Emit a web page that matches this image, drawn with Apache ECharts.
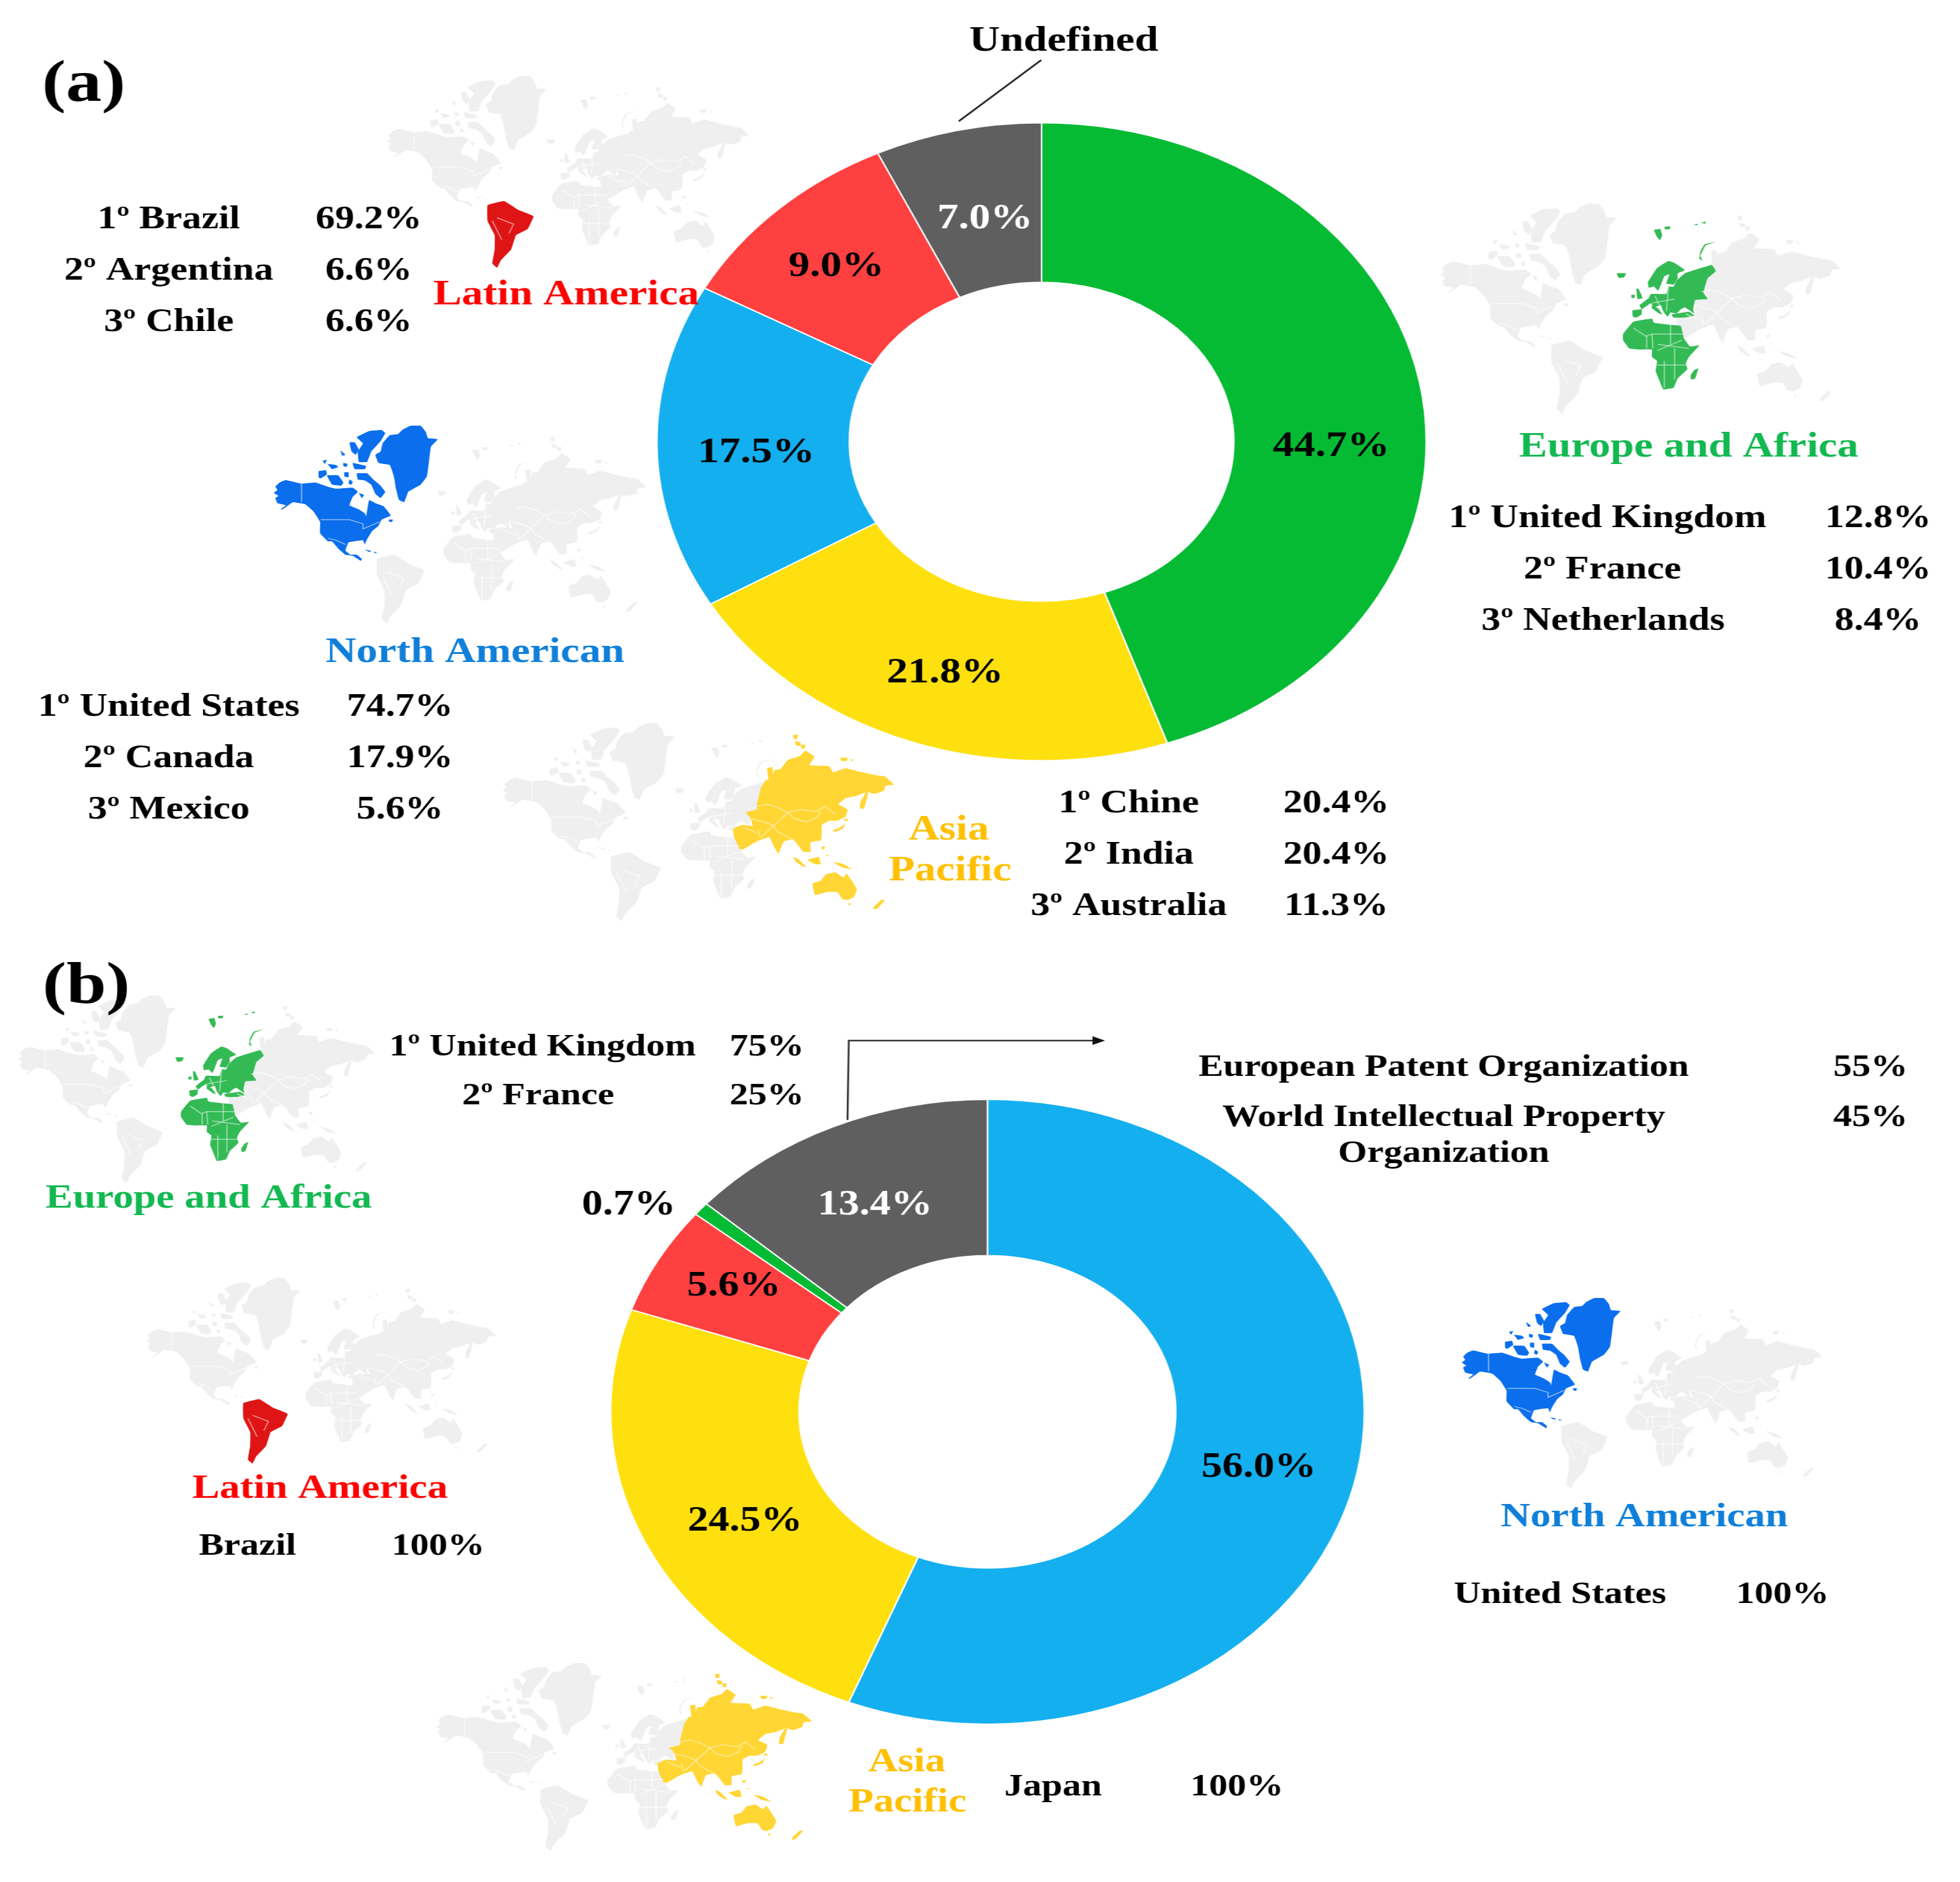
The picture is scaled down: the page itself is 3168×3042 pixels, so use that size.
<!DOCTYPE html>
<html><head><meta charset="utf-8">
<style>html,body{margin:0;padding:0;background:#fff;width:3168px;height:3042px;overflow:hidden}
#c{width:2627px;height:3042px;transform:scaleX(1.206);transform-origin:0 0;filter:blur(0.6px)}</style>
<script src="https://cdn.jsdelivr.net/npm/echarts@6/dist/echarts.min.js"></script>
</head><body><div id="c"></div>
<script>
// ---- data ----
const regionsA = ['Europe and Africa','Asia Pacific','North American','Latin America','Undefined'];
// Slice sizes as drawn in the picture; the printed labels differ slightly from them.
const drawnA   = [44.7,21.8,16.5,10.0,7.0];
const printedA = [44.7,21.8,17.5,9.0,7.0];
const regionsB = ['North American','Asia Pacific','Latin America','Europe and Africa','Undefined'];
const drawnB   = [56.0,24.3,5.6,0.7,13.4];
const printedB = [56.0,24.5,5.6,0.7,13.4];
const latinNamesA  = ['1º Brazil','2º Argentina','3º Chile'];
const latinValsA   = ['69.2%','6.6%','6.6%'];
const northNamesA  = ['1º United States','2º Canada','3º Mexico'];
const northValsA   = ['74.7%','17.9%','5.6%'];
const europeNamesA = ['1º United Kingdom','2º France','3º Netherlands'];
const europeValsA  = ['12.8%','10.4%','8.4%'];
const asiaNamesA   = ['1º Chine','2º India','3º Australia'];
const asiaValsA    = ['20.4%','20.4%','11.3%'];
const europeNamesB = ['1º United Kingdom','2º France'];
const europeValsB  = ['75%','25%'];
const undefNamesB  = ['European Patent Organization','World Intellectual Property','Organization'];
const undefValsB   = ['55%','45%'];

// ---- layout helpers ----
const S = 1.206, K = 2.0204, DY = 5.7;
const sx = v => v*K/S, sy = v => v*K;
const FONT = '"Liberation Serif","Times New Roman",serif';
const C = {green:'#05BB33',yellow:'#FFE00F',blue:'#14AFEF',red:'#FF4040',grey:'#5F5F5F'};
const colorsA = [C.green,C.yellow,C.blue,C.red,C.grey];
const colorsB = [C.blue,C.yellow,C.red,C.green,C.grey];
const labelPosA = [[1065,355],[756,536],[605,360],[669,211],[788,173]];
const labelPosB = [[1007,1172],[596,1215],[587,1027],[503,962],[700,962]];

// ---- decorative world map outlines, traced in local sketch boxes ----
const frames = {
  na:{ox:430,oy:680,bx:444,by:687,bw:601,bh:319,k:3,ky:3},
  eu:{ox:2590,oy:350,bx:2330,by:328,bw:646,bh:339,k:3,ky:3},
  as:{ox:1180,oy:1180,bx:814,by:1168,bw:632,bh:319,k:3,ky:3},
  sa:{ox:0,oy:0,bx:627,by:122,bw:585,bh:309,k:1.307,ky:1.96}
};
const shapes = {
 na:[
  [[660,45],[700,25],[750,25],[775,55],[785,85],[832,90],[800,125],[790,200],[780,270],[750,310],[690,345],[670,395],[645,385],[630,330],[620,270],[600,215],[545,205],[530,165],[555,150],[565,110],[600,70],[640,65]],
  [[440,80],[500,50],[560,45],[578,60],[555,100],[510,150],[490,200],[450,200],[445,150],[470,110]],
  [[405,105],[430,105],[450,140],[435,165],[415,150]],
  [[360,145],[385,165],[370,170]],[[300,210],[340,215],[350,225],[320,235]],[[275,195],[295,190],[285,210]],
  [[375,205],[395,210],[390,225],[375,220]],[[420,205],[485,220],[480,235],[430,235]],
  [[255,245],[290,240],[295,260],[265,280],[255,275]],
  [[295,265],[350,265],[375,300],[365,315],[320,310]],
  [[380,250],[400,250],[400,275],[380,270]],[[405,285],[420,295],[415,310],[400,305]],
  [[440,255],[490,255],[520,285],[550,310],[578,345],[555,375],[530,355],[510,310],[480,290],[445,285]],
  [[450,350],[475,360],[465,375]],
  [[45,320],[65,300],[95,288],[170,305],[240,300],[300,320],[340,330],[420,325],[445,345],[420,370],[405,410],[450,430],[480,450],[485,465],[500,385],[530,400],[570,415],[605,460],[560,480],[545,510],[515,535],[490,575],[478,600],[470,580],[400,590],[385,630],[410,650],[440,650],[465,670],[460,680],[420,655],[385,650],[350,620],[320,585],[300,585],[262,545],[262,490],[230,440],[190,405],[130,395],[80,430],[70,430],[95,410],[55,400],[45,375],[60,365],[38,350],[55,335]],
  [[595,480],[615,480],[610,492],[598,490]],
  [[480,625],[510,632],[500,637]],[[525,635],[540,640],[525,642]]
 ],
 sa:[[[1030,650],[1065,637],[1095,665],[1127,685],[1115,725],[1090,745],[1080,790],[1058,825],[1050,848],[1040,835],[1045,790],[1045,745],[1030,700]]],
 eu:[
  [[250,65],[280,60],[290,90],[280,115],[265,100]],[[300,50],[330,48],[325,62],[305,62]],
  [[440,42],[460,35],[462,42]],[[480,30],[500,25],[500,35]],
  [[550,122],[500,140],[475,190],[485,215],[470,205],[475,170],[495,135]],
  [[70,275],[115,275],[105,295],[80,298]],
  [[165,350],[175,350],[195,395],[170,400]],[[140,380],[158,380],[155,395],[142,395]],
  [[220,320],[265,250],[320,215],[350,225],[400,260],[365,275],[365,300],[345,330],[310,325],[325,280],[300,290],[280,340],[270,360],[250,340],[225,345]],
  [[360,310],[400,275],[530,235],[550,265],[510,300],[490,370],[510,400],[450,405],[440,450],[445,470],[400,440],[380,450],[360,470],[330,465],[310,460],[285,430],[250,440],[235,420],[190,450],[180,430],[225,395],[235,375],[310,375],[320,340],[345,340]],
  [[145,455],[190,450],[190,475],[165,490],[148,485]],
  [[240,430],[270,445],[290,475],[275,470],[240,445]],[[285,430],[330,465],[315,485],[295,460]],
  [[335,475],[420,462],[445,480],[400,490],[345,490]],
  [[100,570],[150,510],[240,495],[250,515],[330,525],[380,530],[395,590],[425,630],[470,625],[420,680],[405,710],[412,740],[365,785],[345,830],[295,838],[270,780],[258,750],[265,700],[240,680],[240,645],[175,645],[130,640],[100,600]],
  [[445,745],[465,735],[450,785],[430,790],[428,770]]
 ],
 as:[
  [[130,360],[150,280],[175,240],[200,250],[215,195],[245,190],[280,145],[340,125],[365,100],[410,130],[385,170],[480,175],[500,205],[560,185],[640,205],[710,220],[750,225],[795,265],[755,270],[745,295],[700,310],[665,300],[610,320],[560,330],[525,360],[570,385],[560,420],[520,440],[480,440],[445,460],[445,510],[440,535],[390,545],[390,590],[355,590],[320,545],[305,530],[260,540],[235,600],[215,570],[190,520],[130,540],[60,580],[45,575],[20,520],[15,480],[60,460],[110,465],[95,420],[75,400],[130,385]],
  [[180,185],[205,180],[210,255],[190,260]],
  [[305,25],[328,22],[325,45],[310,42]],[[315,55],[340,60],[345,75],[320,75]],[[345,72],[365,72],[360,90],[345,90]],
  [[535,135],[570,135],[565,150],[540,150]],[[585,140],[600,145],[590,152]],
  [[660,300],[670,305],[650,380],[630,380],[632,350]],
  [[555,455],[560,450],[545,480],[505,495],[500,485],[530,475]],[[555,430],[570,430],[570,440],[555,440]],
  [[305,615],[330,625],[370,665],[350,660],[320,640]],
  [[375,630],[430,615],[440,650],[410,650]],
  [[500,640],[550,650],[590,675],[540,665]],
  [[445,565],[460,565],[458,578],[445,578]],[[465,605],[478,605],[470,612]],
  [[400,745],[440,730],[465,700],[510,690],[550,715],[565,695],[600,745],[615,775],[600,810],[570,825],[545,820],[520,785],[470,785],[412,800]],
  [[572,840],[588,840],[580,852]],
  [[735,822],[750,825],[715,865],[697,870],[695,860]]
 ]
};
const borders = {
 na:[[[172,305],[172,395]],[[265,480],[405,480],[470,500],[470,525],[550,490]],[[300,570],[340,580],[385,600]]],
 sa:[[[1050,690],[1085,710],[1075,740]],[[1040,700],[1060,760]]],
 eu:[[[150,540],[210,580],[240,570],[330,570],[390,570]],[[330,525],[330,620]],[[240,570],[245,640]],[[270,620],[420,640]],[[265,720],[410,720]],[[300,700],[300,830]],[[350,640],[350,790]],[[215,580],[215,640]],[[240,420],[350,400]],[[320,340],[310,460]],[[255,385],[280,440]],[[265,650],[385,600]]],
 as:[[[135,370],[180,360],[230,375],[280,400],[340,385],[420,395],[460,370],[510,410]],[[280,400],[310,430],[370,445],[420,425],[440,395]],[[280,400],[210,465],[225,490],[300,530]],[[100,430],[180,450],[210,465]],[[135,480],[145,520]],[[60,470],[130,500]],[[210,465],[150,520]]]
};
const HI = {sa:'#DF1515',na:'#0A6EED',eu:'#34BA55',as:'#FFD633'};
function worldMap(x0,y0,x1,y1,hi){
  const out=[];
  const proj=(k,p)=>{
    const f=frames[k];
    const nx=(f.ox+p[0]/f.k-f.bx)/f.bw, ny=(f.oy+p[1]/f.ky-f.by)/f.bh;
    return [(x0+nx*(x1-x0))/S, y0+ny*(y1-y0)];
  };
  for(const k of Object.keys(shapes)){
    for(const poly of shapes[k]){
      out.push({type:'polygon',z:k===hi?1:0,silent:true,
        shape:{smooth:0.08,points:poly.map(p=>proj(k,p))},
        style:{fill:k===hi?HI[k]:'#EFEFEF'}});
    }
    for(const b of borders[k]){
      out.push({type:'polyline',z:2,silent:true,
        shape:{points:b.map(p=>proj(k,p))},
        style:{stroke:'#ffffff',opacity:k===hi?0.55:0.7,lineWidth:1.5,fill:'none'}});
    }
  }
  return out;
}
function txt(t,x,y,size,fill){
  return {type:'text',z:20,silent:true,
    style:{text:t,x:sx(x),y:sy(y+DY),align:'center',verticalAlign:'middle',
      font:'bold '+size+'px '+FONT,fill:fill||'#000'}};
}
function rows(names,vals,nameX,valX,ys,size){
  const o=[];
  names.forEach((n,i)=>{
    const nx=Array.isArray(nameX)?nameX[i]:nameX;
    o.push(txt(n,nx,ys[i],size));o.push(txt(vals[i],valX,ys[i],size));
  });
  return o;
}
const TITLE=57, TITLEB=54.8, ROW=51.8, ROWB=50;
const cLatin='#FF0000', cNorth='#0F7FD9', cEurope='#12B850', cAsia='#FFC000';
const graphics=[
  ...worldMap(627,122,1212,431,'sa'),
  ...worldMap(444,687,1045,1006,'na'),
  ...worldMap(2330,328,2976,667,'eu'),
  ...worldMap(814,1168,1446,1487,'as'),
  ...worldMap(31,1608,607,1910,'eu'),
  ...worldMap(238,2065,802,2364,'sa'),
  ...worldMap(2364,2097,2946,2404,'na'),
  ...worldMap(707,2687,1313,2990,'as'),
  txt('(a)',67,62.5,96), txt('(b)',69,784.5,96),
  txt('Undefined',851,27.5,57),
  {type:'line',z:20,silent:true,shape:{x1:sx(833),y1:sy(48),x2:sx(767),y2:sy(97)},style:{stroke:'#222',lineWidth:2.5}},
  txt('Latin America',453,230.5,TITLE,cLatin),
  ...rows(latinNamesA,latinValsA,135,295,[170.5,211.5,252.5],ROW),
  txt('North American',380,516.5,TITLE,cNorth),
  ...rows(northNamesA,northValsA,135,320,[560.5,601.5,642.5],ROW),
  txt('Europe and Africa',1351,352.5,TITLE,cEurope),
  ...rows(europeNamesA,europeValsA,[1286,1282,1282.5],1502.5,[409.5,450.5,491.5],ROW),
  txt('Asia',759,658.5,TITLE,cAsia), txt('Pacific',760,691.5,TITLE,cAsia),
  ...rows(asiaNamesA,asiaValsA,903,1069,[637.5,678.5,719.5],ROW),
  txt('Europe and Africa',167,953.5,TITLEB,cEurope),
  ...rows(europeNamesB,europeValsB,[434,430.5],613.5,[832.5,871.5],ROWB),
  txt(undefNamesB[0],1155,848.5,ROWB), txt(undefValsB[0],1496.5,848.5,ROWB),
  txt(undefNamesB[1],1155,888.5,ROWB), txt(undefValsB[1],1496.5,888.5,ROWB),
  txt(undefNamesB[2],1155,917.5,ROWB),
  {type:'polyline',z:20,silent:true,shape:{points:[[sx(678),sy(896)],[sx(679),sy(832.5)],[sx(876),sy(832.5)]]},style:{stroke:'#333',lineWidth:2.5,fill:'none'}},
  {type:'polygon',z:20,silent:true,shape:{points:[[sx(884),sy(832.5)],[sx(874),sy(829)],[sx(874),sy(836)]]},style:{fill:'#111'}},
  txt('Latin America',256,1185.5,TITLEB,cLatin),
  txt('Brazil',198,1231.5,ROWB), txt('100%',350.5,1231.5,ROWB),
  txt('North American',1315.5,1208.5,TITLEB,cNorth),
  txt('United States',1248,1270.5,ROWB), txt('100%',1426,1270.5,ROWB),
  txt('Asia',725.5,1404.5,TITLEB,cAsia), txt('Pacific',726,1436.5,TITLEB,cAsia),
  txt('Japan',842.5,1424.5,ROWB), txt('100%',989.5,1424.5,ROWB)
];
function pie(names,vals,printed,colors,pos,cx,cy,r,fs){
  return {type:'pie',z:5,startAngle:90,clockwise:true,avoidLabelOverlap:false,animation:false,silent:true,
    center:[cx/S,cy],radius:[r/2,r],
    itemStyle:{borderColor:'#fff',borderWidth:2},
    labelLine:{show:false},
    label:{show:true,position:'inside',fontFamily:FONT,fontWeight:'bold',fontSize:fs,
      formatter:p=>printed[p.dataIndex].toFixed(1)+'%'},
    labelLayout:p=>({x:sx(pos[p.dataIndex][0]),y:sy(pos[p.dataIndex][1]+2.5),align:'center',verticalAlign:'middle'}),
    data:names.map((n,i)=>({name:n,value:vals[i],itemStyle:{color:colors[i]},
      label:{color:colors[i]===C.grey?'#fff':'#000'}}))};
}
const chart=echarts.init(document.getElementById('c'),null,{renderer:'canvas',width:2627,height:3042});
chart.setOption({
  animation:false,backgroundColor:'#fff',
  graphic:{elements:graphics},
  series:[
    pie(regionsA,drawnA,printedA,colorsA,labelPosA,1683.5,714,515.5,57),
    pie(regionsB,drawnB,printedB,colorsB,labelPosB,1596,2282,505,56)
  ]
});
</script></body></html>
